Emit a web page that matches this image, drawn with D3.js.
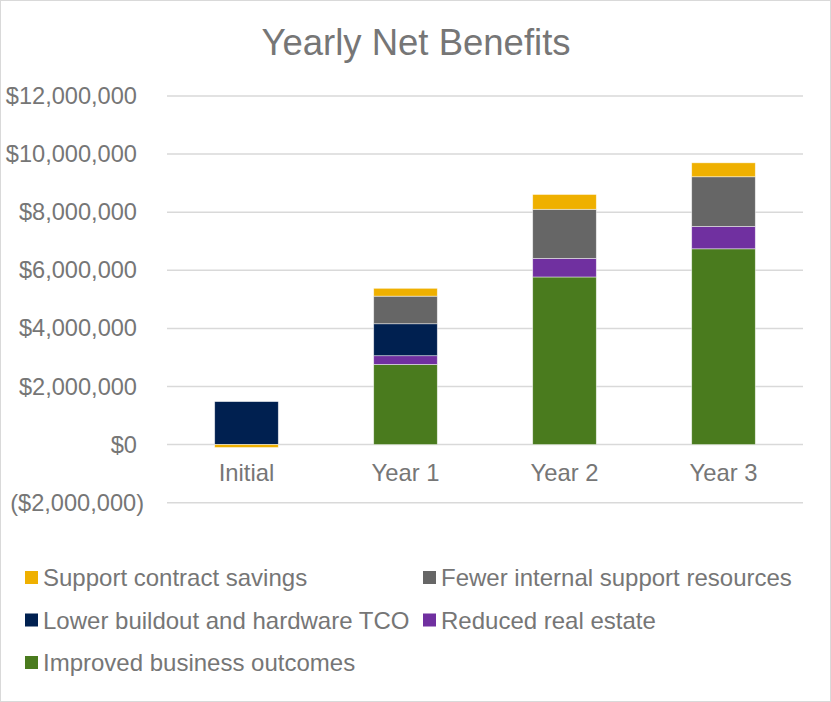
<!DOCTYPE html>
<html>
<head>
<meta charset="utf-8">
<script src="https://cdn.jsdelivr.net/npm/d3@7"></script>
<style>
  html, body { margin: 0; padding: 0; background: #fff; }
  svg { display: block; font-family: "Liberation Sans", Arial, sans-serif; }
</style>
</head>
<body>
<svg id="chart" width="831" height="702"></svg>
<script>
// ---- data ----
const title = "Yearly Net Benefits";
const categories = ["Initial", "Year 1", "Year 2", "Year 3"];
const seriesNames = ["Improved business outcomes", "Reduced real estate", "Lower buildout and hardware TCO", "Fewer internal support resources", "Support contract savings"];
const improvedBusiness = [0, 2760000, 5770000, 6740000];
const reducedRealEstate = [0, 300000, 640000, 770000];
const lowerBuildout = [1480000, 1100000, 0, 0];
const fewerSupport = [0, 950000, 1690000, 1710000];
const supportContract = [-100000, 270000, 510000, 480000];
const seriesColors = ["#4a7b1e", "#7030a0", "#002050", "#666666", "#efb000"];
const yTicks = [-2000000, 0, 2000000, 4000000, 6000000, 8000000, 10000000, 12000000];
const legendOrder = ["Support contract savings", "Fewer internal support resources", "Lower buildout and hardware TCO", "Reduced real estate", "Improved business outcomes"];

// ---- build table ----
const seriesValues = [improvedBusiness, reducedRealEstate, lowerBuildout, fewerSupport, supportContract];
const table = categories.map((c, i) => {
  const row = { category: c };
  seriesNames.forEach((s, j) => row[s] = seriesValues[j][i]);
  return row;
});
const stacked = d3.stack().keys(seriesNames).offset(d3.stackOffsetDiverging)(table);
const color = d3.scaleOrdinal().domain(seriesNames).range(seriesColors);

const svg = d3.select("#chart");
const textColor = "#767676";

// border
svg.append("rect").attr("x", 0.5).attr("y", 0.5).attr("width", 830).attr("height", 701)
  .attr("fill", "#fff").attr("stroke", "#d9d9d9").attr("stroke-width", 1);

// title
svg.append("text").attr("x", 416).attr("y", 55).attr("text-anchor", "middle")
  .attr("font-size", 36.5).attr("fill", textColor).text(title);

const plotLeft = 167, plotRight = 803;
const x = d3.scaleBand().domain(categories).range([plotLeft, plotRight]).paddingInner(0.6).paddingOuter(0.3);
const y = d3.scaleLinear().domain([-2000000, 12000000]).range([502.7, 96]);

// gridlines
svg.append("g").selectAll("line").data(yTicks).join("line")
  .attr("x1", plotLeft).attr("x2", plotRight)
  .attr("y1", d => y(d)).attr("y2", d => y(d))
  .attr("stroke", "#d9d9d9").attr("stroke-width", 1.5);

// y axis labels
const fmt = d => {
  const s = "$" + d3.format(",")(Math.abs(d));
  return d < 0 ? "(" + s + ")" : s;
};
const yAxis = svg.append("g").attr("transform", `translate(${plotLeft},0)`)
  .call(d3.axisLeft(y).tickValues(yTicks).tickFormat(fmt).tickSize(0).tickPadding(30));
yAxis.select(".domain").remove();
yAxis.selectAll("text").attr("font-size", 23.6).attr("fill", textColor)
  .attr("font-family", "'Liberation Sans', Arial, sans-serif")
  .attr("dx", d => d < 0 ? 7 : 0);

// bars
svg.append("g").selectAll("g").data(stacked).join("g")
  .attr("fill", d => color(d.key))
  .selectAll("rect").data(d => d).join("rect")
  .attr("x", d => x(d.data.category))
  .attr("width", x.bandwidth())
  .attr("y", d => y(Math.max(d[0], d[1])))
  .attr("height", d => Math.abs(y(d[0]) - y(d[1])))
  .attr("stroke", "#ffffff").attr("stroke-opacity", 0.6).attr("stroke-width", 0.75);

// category labels
svg.append("g").selectAll("text").data(categories).join("text")
  .attr("x", d => x(d) + x.bandwidth() / 2).attr("y", 481)
  .attr("text-anchor", "middle").attr("font-size", 23.8).attr("fill", textColor)
  .text(d => d);

// legend
const legendPos = [
  { x: 25, y: 577.5 }, { x: 423, y: 577.5 },
  { x: 25, y: 620 }, { x: 423, y: 620 },
  { x: 25, y: 662.5 }
];
const lg = svg.append("g").selectAll("g").data(legendOrder).join("g")
  .attr("transform", (d, i) => `translate(${legendPos[i].x},${legendPos[i].y})`);
lg.append("rect").attr("x", 0).attr("y", -6.5).attr("width", 13).attr("height", 13)
  .attr("fill", d => color(d));
lg.append("text").attr("x", 18).attr("y", 8.5).attr("font-size", 24).attr("fill", textColor)
  .text(d => d);
</script>
</body>
</html>
